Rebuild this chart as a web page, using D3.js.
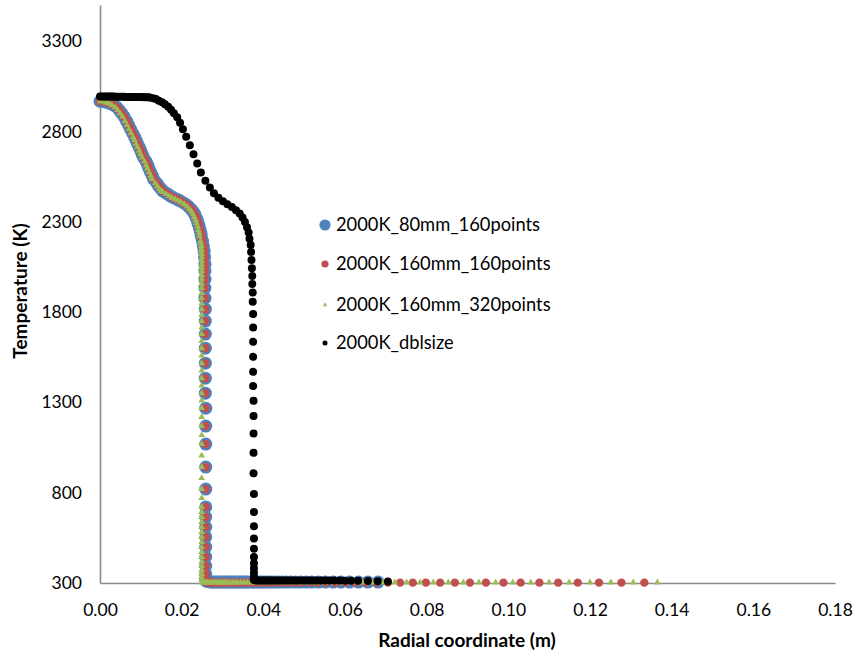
<!DOCTYPE html>
<html>
<head>
<meta charset="utf-8">
<script src="https://cdn.jsdelivr.net/npm/d3@7"></script>
<style>
  body { margin: 0; background: #fff; }
  text { font-family: Lato, "Noto Sans", sans-serif; fill: #000; }
</style>
</head>
<body>
<div id="chart"></div>
<script>
// --- data (x in m, T in K) ---
const seriesNames = ['2000K_80mm_160points', '2000K_160mm_160points', '2000K_160mm_320points', '2000K_dblsize'];
const xTicks = [0, 0.02, 0.04, 0.06, 0.08, 0.10, 0.12, 0.14, 0.16, 0.18];
const yTicks = [300, 800, 1300, 1800, 2300, 2800, 3300];

// shared by the 160-point runs near the interface
const coreCurve = [[0,2967],[0.0010,2965],[0.0019,2959],[0.0026,2954],[0.0033,2945],[0.0041,2934],[0.0047,2918],
  [0.0053,2901],[0.0059,2882],[0.0065,2857],[0.0070,2835],[0.0075,2812],[0.0080,2790],[0.0085,2768],[0.0088,2752],
  [0.0092,2732],[0.0096,2713],[0.0100,2693],[0.0103,2674],[0.0107,2655],[0.0113,2633],[0.0117,2613],[0.0120,2594],
  [0.0124,2574],[0.0128,2555],[0.0131,2536],[0.0139,2514],[0.0144,2497],[0.0149,2483],[0.0153,2472],[0.0158,2464],
  [0.0166,2453],[0.0173,2442],[0.0180,2433],[0.0188,2425],[0.0195,2417],[0.0202,2408],[0.0210,2397],[0.0217,2384],
  [0.0223,2370],[0.0228,2356],[0.0232,2342],[0.0235,2325],[0.0238,2309],[0.0240,2292],[0.0243,2273],[0.0245,2254],
  [0.0247,2237],[0.0248,2220]];
const coreWall = [[0.0251,2193],[0.0253,2165],[0.0255,2137],[0.0256,2104],[0.0257,2065],[0.0257,2027],[0.0257,1982],
  [0.0257,1933],[0.0257,1877],[0.0258,1816],[0.0258,1750],[0.0258,1678],[0.0258,1600],[0.0258,1517],[0.0258,1434],
  [0.0258,1351],[0.0259,1268],[0.0259,1169],[0.0259,1069],[0.0259,942],[0.0259,820],[0.0259,721],[0.0259,665],
  [0.0259,610],[0.0259,555],[0.0259,499],[0.0259,444],[0.0259,394],[0.0259,350],[0.0259,322]];
const blueFloor = [[0.0260,310],[0.0265,308],[0.0269,306],[0.0274,305],[0.0279,305],[0.0284,305],[0.0289,305],
  [0.0294,305],[0.0299,305],[0.0304,305],[0.0309,305],[0.0313,305],[0.0318,305],[0.0323,305],[0.0328,305],[0.0333,305],
  [0.0338,305],[0.0343,305],[0.0348,305],[0.0353,305],[0.0358,305],[0.0362,305],[0.0369,305],[0.0375,305],[0.0381,305],
  [0.0387,305],[0.0393,305],[0.0399,305],[0.0407,305],[0.0414,305],[0.0421,305],[0.0429,305],[0.0437,305],[0.0446,305],
  [0.0456,305],[0.0467,305],[0.0479,305],[0.0491,305],[0.0505,305],[0.0519,305],[0.0535,305],[0.0552,305],[0.0571,305],
  [0.0590,305],[0.0611,305],[0.0633,305],[0.0656,305],[0.0681,305]];
const redFloor = [[0.0260,306],[0.0263,304],[0.0267,303],[0.0270,302],[0.0274,302],[0.0278,302],[0.0283,302],
  [0.0288,302],[0.0292,302],[0.0298,302],[0.0303,302],[0.0309,302],[0.0315,302],[0.0321,302],[0.0327,302],[0.0334,302],
  [0.0341,302],[0.0349,302],[0.0358,302],[0.0366,302],[0.0376,302],[0.0386,302],[0.0397,302],[0.0408,302],[0.0420,302],
  [0.0433,302],[0.0447,302],[0.0462,302],[0.0478,302],[0.0495,302],[0.0514,302],[0.0533,302],[0.0554,302],[0.0576,302],
  [0.0599,302],[0.0624,302],[0.0649,302],[0.0676,302],[0.0705,302],[0.0735,302],[0.0766,302],[0.0798,302],[0.0833,302],
  [0.0869,302],[0.0906,302],[0.0945,302],[0.0988,302],[0.1030,302],[0.1076,302],[0.1122,302],[0.1170,302],[0.1222,302],
  [0.1277,302],[0.1333,302]];

const greenCurve = [[0,2967],[0.0007,2965],[0.0015,2959],[0.0022,2954],[0.0029,2945],[0.0037,2934],[0.0043,2918],
  [0.0049,2901],[0.0055,2882],[0.0061,2857],[0.0066,2835],[0.0071,2812],[0.0076,2790],[0.0081,2768],[0.0084,2752],
  [0.0088,2732],[0.0092,2713],[0.0096,2693],[0.0099,2674],[0.0103,2655],[0.0109,2633],[0.0113,2613],[0.0116,2594],
  [0.0120,2574],[0.0124,2555],[0.0127,2536],[0.0135,2514],[0.0140,2497],[0.0145,2483],[0.0149,2472],[0.0154,2464],
  [0.0162,2453],[0.0169,2442],[0.0176,2433],[0.0184,2425],[0.0191,2417],[0.0198,2408],[0.0206,2397],[0.0213,2384],
  [0.0219,2370],[0.0224,2356],[0.0228,2342],[0.0231,2325],[0.0234,2309],[0.0236,2292],[0.0239,2273],[0.0241,2254],
  [0.0243,2237],[0.0244,2220]];
const greenWall = [[0.0246,2193],[0.0247,2179],[0.0248,2165],[0.0248,2151],[0.0248,2137],[0.0249,2121],[0.0249,2104],
  [0.0249,2085],[0.0249,2065],[0.0249,2046],[0.0249,2027],[0.0249,2004],[0.0249,1982],[0.0249,1957],[0.0249,1933],
  [0.0249,1905],[0.0249,1877],[0.0249,1847],[0.0249,1816],[0.0249,1783],[0.0249,1750],[0.0249,1714],[0.0249,1678],
  [0.0249,1639],[0.0249,1600],[0.0249,1559],[0.0249,1517],[0.0249,1476],[0.0249,1434],[0.0249,1393],[0.0249,1351],
  [0.0249,1310],[0.0249,1268],[0.0249,1219],[0.0249,1169],[0.0249,1119],[0.0249,1069],[0.0249,1006],[0.0249,942],
  [0.0249,881],[0.0249,820],[0.0249,770],[0.0249,721],[0.0249,693],[0.0249,665],[0.0249,638],[0.0249,610],
  [0.0249,582],[0.0249,555],[0.0249,527],[0.0249,499],[0.0249,472],[0.0249,444],[0.0249,419],[0.0249,394],
  [0.0249,372],[0.0249,350],[0.0249,333],[0.0249,317]];
const greenFloor = [[0.0250,303],[0.0255,303],[0.0260,303],[0.0264,303],[0.0269,303],[0.0274,303],[0.0279,303],
  [0.0284,303],[0.0289,303],[0.0294,303],[0.0299,303],[0.0304,303],[0.0309,303],[0.0313,303],[0.0320,303],[0.0326,303],
  [0.0332,303],[0.0338,303],[0.0345,303],[0.0353,303],[0.0360,303],[0.0369,303],[0.0377,303],[0.0386,303],[0.0396,303],
  [0.0405,303],[0.0416,303],[0.0427,303],[0.0440,303],[0.0452,303],[0.0465,303],[0.0480,303],[0.0496,303],[0.0513,303],
  [0.0531,303],[0.0551,303],[0.0572,303],[0.0594,303],[0.0617,303],[0.0642,303],[0.0667,303],[0.0694,303],[0.0722,303],
  [0.0751,303],[0.0784,303],[0.0816,303],[0.0853,303],[0.0890,303],[0.0928,303],[0.0969,303],[0.1011,303],[0.1055,303],
  [0.1100,303],[0.1149,303],[0.1200,303],[0.1251,303],[0.1306,303],[0.1365,303]];

const blackTop = [[0,2993],[0.0005,2993],[0.0010,2993],[0.0015,2993],[0.0020,2993],[0.0025,2993],[0.0029,2993],
  [0.0034,2993],[0.0039,2992],[0.0044,2992],[0.0049,2992],[0.0054,2992],[0.0059,2992],[0.0064,2991],[0.0069,2991],
  [0.0073,2991],[0.0078,2991],[0.0083,2991],[0.0088,2990],[0.0093,2990],[0.0098,2990],[0.0103,2990],[0.0108,2989],
  [0.0113,2989],[0.0118,2989],[0.0122,2988],[0.0130,2984],[0.0137,2979],[0.0144,2970],[0.0152,2962],[0.0159,2951],
  [0.0167,2937],[0.0174,2920],[0.0181,2901],[0.0189,2879],[0.0196,2848],[0.0203,2812],[0.0211,2771],[0.0220,2724],
  [0.0229,2674],[0.0238,2622],[0.0247,2572],[0.0258,2527],[0.0269,2489],[0.0279,2458],[0.0290,2433],[0.0301,2414],
  [0.0312,2397],[0.0323,2381],[0.0333,2364],[0.0342,2345],[0.0349,2323],[0.0355,2298],[0.0360,2270],[0.0364,2240],
  [0.0366,2206]];
const blackWall = [[0.0369,2171],[0.0370,2132],[0.0371,2088],[0.0372,2043],[0.0373,1999],[0.0373,1955],[0.0374,1908],
  [0.0374,1857],[0.0375,1789],[0.0375,1715],[0.0375,1635],[0.0375,1552],[0.0375,1469],[0.0375,1390],[0.0376,1309],
  [0.0376,1224],[0.0376,1128],[0.0376,1021],[0.0376,907],[0.0377,793],[0.0377,693],[0.0377,614],[0.0377,546],
  [0.0377,489],[0.0377,444],[0.0377,409],[0.0377,381],[0.0377,357],[0.0377,335]];
const blackFloor = [[0.0377,316],[0.0382,314],[0.0387,314],[0.0392,314],[0.0397,314],[0.0402,314],[0.0407,314],
  [0.0411,314],[0.0416,314],[0.0421,314],[0.0426,314],[0.0432,314],[0.0438,314],[0.0444,314],[0.0451,314],[0.0457,314],
  [0.0464,314],[0.0471,314],[0.0479,314],[0.0486,314],[0.0495,314],[0.0503,314],[0.0512,314],[0.0520,314],[0.0530,314],
  [0.0540,314],[0.0551,314],[0.0562,314],[0.0574,314],[0.0587,314],[0.0600,313],[0.0615,313],[0.0632,312],[0.0656,311],
  [0.0680,310],[0.0705,308]];

// --- layout ---
const width = 857, height = 655;
const margin = { left: 100, right: 22, top: 5, bottom: 72 };

const svg = d3.select('#chart').append('svg')
  .attr('width', width)
  .attr('height', height);

const x = d3.scaleLinear().domain([0, 0.18]).range([margin.left, width - margin.right]);
const y = d3.scaleLinear().domain([300, 3500]).range([height - margin.bottom, margin.top]);

// axes (no tick marks, grey lines)
const xAxis = svg.append('g')
  .attr('transform', `translate(0,${y(300)})`)
  .call(d3.axisBottom(x).tickValues(xTicks).tickSize(0).tickPadding(21).tickFormat(d3.format('.2f')));
const yAxis = svg.append('g')
  .attr('transform', `translate(${x(0)},0)`)
  .call(d3.axisLeft(y).tickValues(yTicks).tickSize(0).tickPadding(18).tickFormat(d3.format('d')));
[xAxis, yAxis].forEach(g => {
  g.select('.domain').attr('stroke', '#8a8a8a').attr('stroke-width', 1.6);
  g.selectAll('text').style('font-size', '17.5px').attr('fill', '#000');
});

svg.append('text')
  .attr('x', 467).attr('y', 647)
  .attr('text-anchor', 'middle')
  .style('font-size', '19px').style('font-weight', 'bold')
  .text('Radial coordinate (m)');
svg.append('text')
  .attr('transform', `translate(27,${291}) rotate(-90)`)
  .attr('text-anchor', 'middle')
  .style('font-size', '19px').style('font-weight', 'bold')
  .text('Temperature (K)');

// series
const blue = coreCurve.concat(coreWall, blueFloor);
const red = coreCurve.concat(coreWall, redFloor);
const green = greenCurve.concat(greenWall, greenFloor);
const black = blackTop.concat(blackWall, blackFloor);

function dots(data, r, color) {
  svg.append('g').selectAll('circle')
    .data(data)
    .enter()
    .append('circle')
    .attr('cx', d => x(d[0]))
    .attr('cy', d => y(d[1]))
    .attr('r', r)
    .attr('fill', color);
}

dots(blue, 6.5, '#4f81bd');
dots(red, 4.2, '#c0504d');
svg.append('g').selectAll('path')
  .data(green)
  .enter()
  .append('path')
  .attr('transform', d => `translate(${x(d[0])},${y(d[1])})`)
  .attr('d', d3.symbol().type(d3.symbolTriangle).size(20))
  .attr('fill', '#9bbb59');
dots(black, 4, '#000');

// legend
const legendRows = [225, 264, 305, 343];
const legend = svg.append('g');
legend.append('circle').attr('cx', 325).attr('cy', legendRows[0]).attr('r', 5.6).attr('fill', '#4f81bd');
legend.append('circle').attr('cx', 325).attr('cy', legendRows[1]).attr('r', 3.6).attr('fill', '#c0504d');
legend.append('path')
  .attr('transform', `translate(325,${legendRows[2]})`)
  .attr('d', d3.symbol().type(d3.symbolTriangle).size(9))
  .attr('fill', '#9bbb59');
legend.append('circle').attr('cx', 325).attr('cy', legendRows[3]).attr('r', 2.5).attr('fill', '#000');
legend.selectAll('text')
  .data(seriesNames)
  .enter()
  .append('text')
  .attr('x', 336)
  .attr('y', (d, i) => legendRows[i])
  .attr('dy', '0.35em')
  .style('font-size', '18.3px')
  .text(d => d);
</script>
</body>
</html>
